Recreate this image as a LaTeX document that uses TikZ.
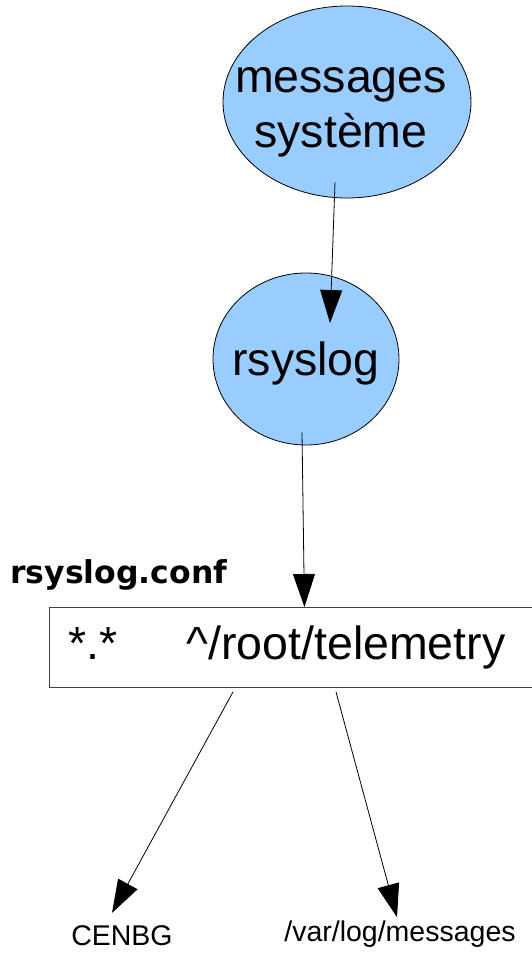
\documentclass[tikz,border=0pt]{standalone}
\usepackage{fontspec}
\setmainfont{Liberation Sans}
\newfontfamily\conffont{DejaVu Sans}
\usepackage{xcolor}
\usepackage{tikz}
\usetikzlibrary{arrows.meta,shapes.geometric}
\definecolor{bubble}{HTML}{99CCFF}
\definecolor{ink}{HTML}{000000}
\tikzset{
  bub/.style={ellipse, draw=ink, fill=bubble, line width=0.8pt, inner sep=0pt},
  big/.style={inner sep=0pt, font=\fontsize{46.5}{55}\selectfont, align=center},
  rule/.style={draw=ink!75, line width=0.9pt, inner sep=0pt, font=\fontsize{46.5}{55}\selectfont},
  flow/.style={draw=ink, line width=0.8pt, -{Triangle[length=33pt,width=22pt]}},
  dest/.style={inner sep=0pt, font=\fontsize{28.5}{34}\selectfont},
  tag/.style={inner sep=0pt, font=\conffont\bfseries\fontsize{31.5}{36}\selectfont},
}

\begin{document}
\begin{tikzpicture}[x=1pt,y=-1pt]
  \useasboundingbox (0,0) rectangle (531,953);
  % the two bubbles
  \node[bub, minimum width=248pt, minimum height=192pt] (msg) at (347,102) {};
  \node[big] (msgtext) at (341,112) {messages\\syst\`eme};
  \node[bub, minimum width=186pt, minimum height=172pt] (rsys) at (306,359) {};
  \node[big, anchor=base] (rsystext) at (306,375) {rsyslog};
  % the rule box, cut at the right edge
  \node[rule, anchor=north west, minimum width=492pt, minimum height=80pt,
        text width=454pt, align=left, inner xsep=19pt] (conf) at (49,607)
        {*.*\hspace{69pt}\^{}/root/telemetry};
  \node[tag, anchor=base west] (conftag) at (10,583) {rsyslog.conf};
  % destinations
  \node[dest, anchor=base] (cenbg) at (122,945) {CENBG};
  \node[dest, anchor=base] (varlog) at (400,941) {/var/log/messages};
  % connectors
  \draw[flow] ([xshift=-12pt,yshift=16pt]msg.south) -- ([xshift=24pt,yshift=36pt]rsys.center);
  \draw[flow] ([xshift=-4pt,yshift=13pt]rsys.south) -- ([xshift=9pt]conf.north);
  \draw[flow] ([xshift=184pt,yshift=-4pt]conf.south west) -- ([xshift=-10pt,yshift=12pt]cenbg.north);
  \draw[flow] ([xshift=287pt,yshift=-4pt]conf.south west) -- ([xshift=-3pt,yshift=3pt]varlog.north);
\end{tikzpicture}
\end{document}
